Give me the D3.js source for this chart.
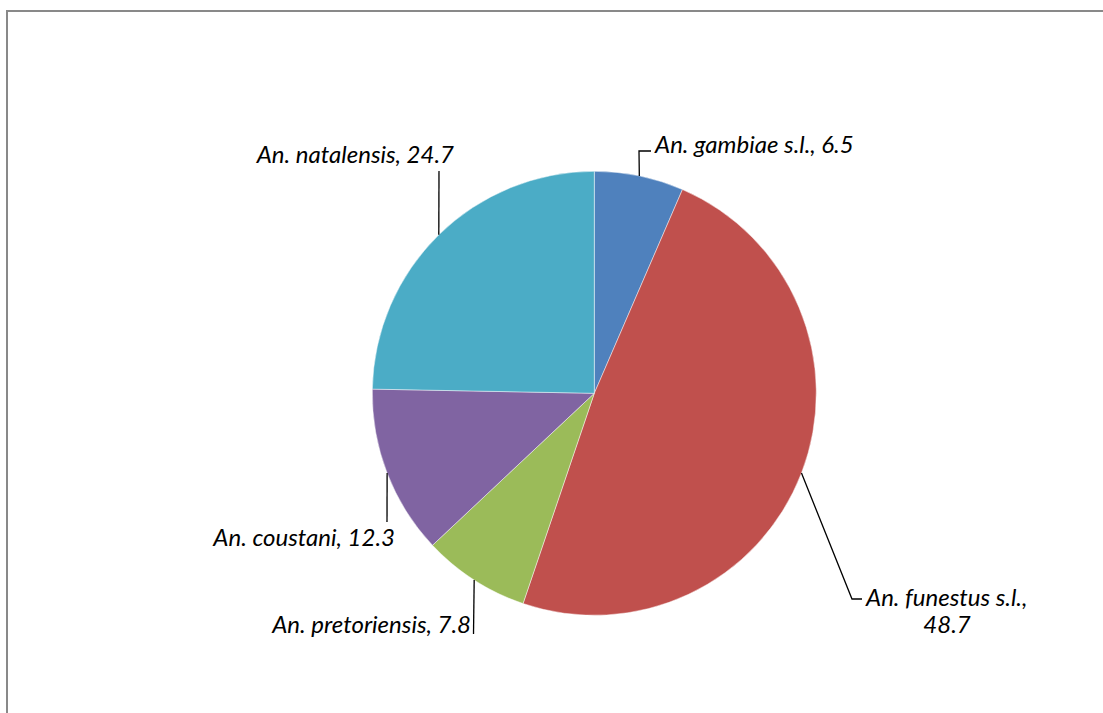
<!DOCTYPE html>
<html>
<head>
<meta charset="utf-8">
<script src="https://cdn.jsdelivr.net/npm/d3@7"></script>
<style>
  html, body { margin: 0; padding: 0; background: #fff; }
  svg { display: block; }
  text { font-family: "Lato", "Open Sans", sans-serif; font-style: italic; fill: #000; }
</style>
</head>
<body>
<svg id="chart" width="1103" height="713"></svg>
<script>
// ---- data ----
const species = ["An. gambiae s.l.", "An. funestus s.l.", "An. pretoriensis", "An. coustani", "An. natalensis"];
const percents = [6.5, 48.7, 7.8, 12.3, 24.7];
const colors = ["#4F81BD", "#C0504D", "#9BBB59", "#8064A2", "#4BACC6"];

// ---- layout ----
const W = 1103, H = 713;
const cx = 594.3, cy = 393.3, R = 222;
const fontSize = 24;

// label layout: text anchor point + leader elbow points (excluding the arc point)
const labelLayout = [
  { lines: [0], x: 655, y: 153, anchor: "start", leader: [[639, 151], [651, 151]] },
  { lines: [0, 1], x: 866, y: 606, anchor: "start", line2x: 947, leader: [[852, 599], [862, 599]] },
  { lines: [0], x: 471, y: 633, anchor: "end", leader: [[473.5, 634]] },
  { lines: [0], x: 395, y: 546, anchor: "end", leader: [[387, 522]] },
  { lines: [0], x: 454, y: 163, anchor: "end", leader: [[439, 171]] }
];

const svg = d3.select("#chart");

// outer border
svg.append("rect")
  .attr("x", 7).attr("y", 11)
  .attr("width", W + 20).attr("height", H + 20)
  .attr("fill", "none")
  .attr("stroke", "#898989")
  .attr("stroke-width", 2);

const pie = d3.pie().sort(null).value(d => d)(percents);
const arc = d3.arc().innerRadius(0).outerRadius(R);

const g = svg.append("g").attr("transform", `translate(${cx},${cy})`);

g.selectAll("path.slice")
  .data(pie)
  .join("path")
  .attr("class", "slice")
  .attr("d", arc)
  .attr("fill", (d, i) => colors[i])
  .attr("stroke", "rgba(255,255,255,0.45)")
  .attr("stroke-width", 1);

// leader lines
const line = d3.line();
pie.forEach((d, i) => {
  const mid = (d.startAngle + d.endAngle) / 2;
  const p0 = [cx + R * Math.sin(mid), cy - R * Math.cos(mid)];
  const L = labelLayout[i];
  svg.append("path")
    .attr("d", line([p0, ...L.leader]))
    .attr("fill", "none")
    .attr("stroke", "#000")
    .attr("stroke-width", 1.3);
});

// labels
pie.forEach((d, i) => {
  const L = labelLayout[i];
  const val = d3.format(".1f")(percents[i]);
  if (L.lines.length === 1) {
    svg.append("text")
      .attr("x", L.x).attr("y", L.y)
      .attr("text-anchor", L.anchor)
      .attr("font-size", fontSize)
      .text(`${species[i]}, ${val}`);
  } else {
    svg.append("text")
      .attr("x", L.x).attr("y", L.y)
      .attr("text-anchor", L.anchor)
      .attr("font-size", fontSize)
      .text(`${species[i]},`);
    svg.append("text")
      .attr("x", L.line2x).attr("y", L.y + 27)
      .attr("text-anchor", "middle")
      .attr("font-size", fontSize)
      .text(val);
  }
});
</script>
</body>
</html>
